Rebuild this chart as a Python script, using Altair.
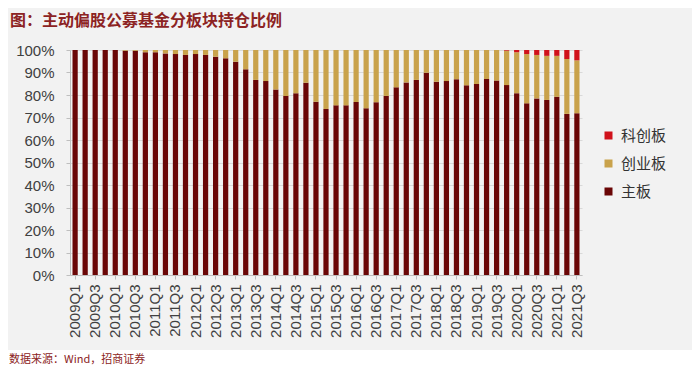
import altair as alt
import pandas as pd

quarters = [
    "2009Q1", "2009Q2", "2009Q3", "2009Q4", "2010Q1", "2010Q2", "2010Q3", "2010Q4",
    "2011Q1", "2011Q2", "2011Q3", "2011Q4", "2012Q1", "2012Q2", "2012Q3", "2012Q4",
    "2013Q1", "2013Q2", "2013Q3", "2013Q4", "2014Q1", "2014Q2", "2014Q3", "2014Q4",
    "2015Q1", "2015Q2", "2015Q3", "2015Q4", "2016Q1", "2016Q2", "2016Q3", "2016Q4",
    "2017Q1", "2017Q2", "2017Q3", "2017Q4", "2018Q1", "2018Q2", "2018Q3", "2018Q4",
    "2019Q1", "2019Q2", "2019Q3", "2019Q4", "2020Q1", "2020Q2", "2020Q3", "2020Q4",
    "2021Q1", "2021Q2", "2021Q3",
]

main_board = [
    100, 100, 100, 100, 100, 99.7, 99.7, 99.0,
    99.0, 98.5, 98.2, 97.8, 98.2, 97.8, 97.0, 96.3,
    94.8, 91.4, 86.7, 86.2, 82.5, 79.6, 80.8, 85.5,
    77.0, 73.8, 75.4, 75.4, 76.9, 74.1, 76.8, 79.6,
    83.4, 85.6, 86.7, 89.9, 85.9, 86.2, 87.0, 84.3,
    84.9, 87.1, 86.4, 84.4, 80.8, 76.3, 78.5, 77.8,
    79.2, 71.6, 71.9,
]

gem_board = [
    0, 0, 0, 0, 0, 0.3, 0.3, 1.0,
    1.0, 1.5, 1.8, 2.2, 1.8, 2.2, 3.0, 3.7,
    5.2, 8.6, 13.3, 13.8, 17.5, 20.4, 19.2, 14.5,
    23.0, 26.2, 24.6, 24.6, 23.1, 25.9, 23.2, 20.4,
    16.6, 14.4, 13.3, 10.1, 14.1, 13.8, 13.0, 15.7,
    15.1, 12.9, 13.6, 15.3, 18.2, 21.9, 19.3, 19.6,
    18.2, 24.4, 23.5,
]

star_board = [
    0, 0, 0, 0, 0, 0, 0, 0,
    0, 0, 0, 0, 0, 0, 0, 0,
    0, 0, 0, 0, 0, 0, 0, 0,
    0, 0, 0, 0, 0, 0, 0, 0,
    0, 0, 0, 0, 0, 0, 0, 0,
    0, 0, 0, 0.3, 1.0, 1.8, 2.2, 2.6,
    2.6, 4.0, 4.6,
]

series_names = ["科创板", "创业板", "主板"]
series_colors = ["#d0121b", "#c9a24b", "#6a0606"]
x_label_values = quarters[::2]

title_text = "图：主动偏股公募基金分板块持仓比例"
source_text = "数据来源：Wind，招商证券"

rows = []
for i, q in enumerate(quarters):
    rows.append({"q": q, "board": "主板", "v": main_board[i] / 100, "o": 0})
    rows.append({"q": q, "board": "创业板", "v": gem_board[i] / 100, "o": 1})
    rows.append({"q": q, "board": "科创板", "v": star_board[i] / 100, "o": 2})
df = pd.DataFrame(rows)

W, H = 512, 225
PAD_L, PAD_T = 62, 42
PAD_R = 684 - PAD_L - W
PAD_B = 359 - PAD_T - H

bars = alt.Chart(df).mark_bar().encode(
    x=alt.X("q:N", sort=quarters, title=None,
            scale=alt.Scale(paddingInner=0.48, paddingOuter=0.25),
            axis=alt.Axis(values=x_label_values, labelAngle=270, labelAlign="right",
                          labelBaseline="middle", labelFontSize=15, labelColor="#404040",
                          labelFont="Liberation Sans", labelPadding=5, tickSize=4,
                          tickColor="#bfbfbf", domainColor="#bfbfbf", grid=False)),
    y=alt.Y("v:Q", stack="zero", title=None,
            scale=alt.Scale(domain=[0, 1], nice=False),
            axis=alt.Axis(format=".0%", tickCount=11, values=[i / 10 for i in range(11)],
                          labelFontSize=15, labelColor="#404040", labelFont="Liberation Sans",
                          labelPadding=12, tickSize=4, tickColor="#bfbfbf",
                          domainColor="#bfbfbf", gridColor="#d9d9d9")),
    color=alt.Color("board:N", scale=alt.Scale(domain=series_names, range=series_colors),
                    legend=alt.Legend(title=None, orient="none", legendX=531, legendY=78,
                                      symbolType="square", symbolSize=64,
                                      symbolStrokeWidth=0, labelFontSize=15,
                                      labelFont="Noto Sans CJK SC", labelColor="#333333",
                                      rowPadding=12, labelOffset=5)),
    order=alt.Order("o:Q"),
)

one = pd.DataFrame({"t": [0]})

white_band = alt.Chart(one).mark_rect(color="white").encode(
    x=alt.value(-PAD_L), x2=alt.value(W + PAD_R),
    y=alt.value(300), y2=alt.value(H + PAD_B),
)

title = alt.Chart(pd.DataFrame({"t": [title_text]})).mark_text(
    align="left", baseline="middle", fontSize=16, font="Noto Sans CJK SC",
    color="#8c2323", fontWeight="bold",
).encode(text="t:N", x=alt.value(-PAD_L + 2), y=alt.value(-29))

source = alt.Chart(pd.DataFrame({"t": [source_text]})).mark_text(
    align="left", baseline="middle", fontSize=11, font="Noto Sans CJK SC",
    color="#8c2323",
).encode(text="t:N", x=alt.value(-PAD_L + 1), y=alt.value(310))

chart = alt.layer(white_band, bars, title, source).properties(
    width=W, height=H,
    autosize=alt.AutoSizeParams(type="none"),
    padding={"left": PAD_L, "top": PAD_T, "right": PAD_R, "bottom": PAD_B},
    background="#f2f2f2",
).configure_view(stroke=None)

chart.save("out.html", embed_options={"renderer": "svg", "actions": False})
